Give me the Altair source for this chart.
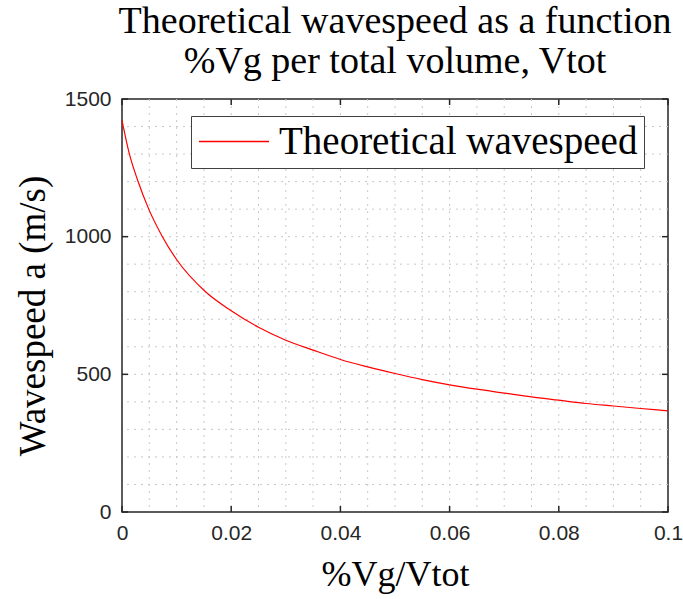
import altair as alt
import pandas as pd

# ---- data ----
gas_fraction = [0, 0.0013, 0.0029, 0.0049, 0.0074, 0.01, 0.0153, 0.02,
                0.025, 0.03, 0.035, 0.04, 0.045, 0.05, 0.055, 0.06, 0.065, 0.07,
                0.075, 0.08, 0.085, 0.09, 0.095, 0.1]
wavespeed = [1422, 1304, 1203, 1100, 1000, 917, 800, 731,
             671, 624, 588, 554, 527, 503, 481, 462, 446, 432,
             418, 406, 394, 385, 376, 367]
series_name = "Theoretical wavespeed"

x_tick_values = [0, 0.02, 0.04, 0.06, 0.08, 0.1]
y_tick_values = [0, 500, 1000, 1500]
x_grid_values = [0.005, 0.01, 0.015, 0.02, 0.025, 0.03, 0.035, 0.04, 0.045, 0.05,
                 0.055, 0.06, 0.065, 0.07, 0.075, 0.08, 0.085, 0.09, 0.095]
y_grid_values = [100, 200, 300, 400, 500, 600, 700, 800, 900, 1000,
                 1100, 1200, 1300, 1400]

W, H = 546, 413
TICK = 6
AX = "#262626"
RED = "#ff0000"
SERIF = "Liberation Serif"
SANS = "Liberation Sans"

curve_df = pd.DataFrame({"x": gas_fraction, "y": wavespeed, "series": series_name})
xg_df = pd.DataFrame({"x": x_grid_values})
yg_df = pd.DataFrame({"y": y_grid_values})
xt_df = pd.DataFrame({"x": x_tick_values})
yt_df = pd.DataFrame({"y": y_tick_values})

xscale = alt.Scale(domain=[0, 0.1], nice=False, zero=False)
yscale = alt.Scale(domain=[0, 1500], nice=False, zero=False)

axis_common = dict(domain=False, ticks=False, grid=False, labelFont=SANS,
                   labelFontSize=21, labelColor=AX, labelFlush=False, titleFont=SERIF,
                   titleFontWeight="normal", titleColor="black")
xaxis = alt.Axis(values=x_tick_values, format="~g", title="%Vg/Vtot",
                 titleFontSize=36, titlePadding=14, labelPadding=10, **axis_common)
yaxis = alt.Axis(values=y_tick_values, format="d", title="Wavespeed a (m/s)",
                 titleFontSize=37, titlePadding=12, labelPadding=11,
                 titleY=H / 2 + 10, **axis_common)

X = alt.X("x:Q", scale=xscale, axis=xaxis)
Y = alt.Y("y:Q", scale=yscale, axis=yaxis)

grid_style = dict(color="#c8c8c8", strokeWidth=1, strokeDash=[2, 5])

xgrid = alt.Chart(xg_df).mark_rule(**grid_style).encode(x=X)
ygrid = alt.Chart(yg_df).mark_rule(**grid_style).encode(y=Y)

xticks_bottom = alt.Chart(xt_df).mark_rule(color=AX, strokeWidth=1.5).encode(
    x=X, y=alt.value(H), y2=alt.value(H - TICK)
)
xticks_top = alt.Chart(xt_df).mark_rule(color=AX, strokeWidth=1.5).encode(
    x=X, y=alt.value(0), y2=alt.value(TICK)
)
yticks_left = alt.Chart(yt_df).mark_rule(color=AX, strokeWidth=1.5).encode(
    y=Y, x=alt.value(0), x2=alt.value(TICK)
)
yticks_right = alt.Chart(yt_df).mark_rule(color=AX, strokeWidth=1.5).encode(
    y=Y, x=alt.value(W - TICK), x2=alt.value(W)
)

# legend line sample: a thin rectangle path spanning [-1, 3] x [-0.04, 0.04] symbol units
legend_line = "M-1,-0.04H3V0.04H-1Z"

line = alt.Chart(curve_df).mark_line(strokeWidth=1.2, interpolate="monotone").encode(
    x=X,
    y=Y,
    color=alt.Color("series:N", scale=alt.Scale(domain=[series_name], range=[RED]),
                    legend=alt.Legend(title=None, orient="none", legendX=69, legendY=17,
                                      symbolType=legend_line, symbolSize=1225,
                                      symbolStrokeWidth=0, symbolStrokeColor=RED,
                                      symbolFillColor=RED,
                                      labelFont=SERIF,
                                      labelFontSize=39, labelColor="black",
                                      labelLimit=0, labelOffset=43,
                                      strokeColor="#404040",
                                      fillColor="white", padding=6)),
)

chart = alt.layer(xgrid, ygrid, line, xticks_bottom, xticks_top, yticks_left, yticks_right).properties(
    width=W, height=H,
    background="white",
    autosize=alt.AutoSizeParams(type="none"),
    padding={"left": 122, "top": 99, "right": 15, "bottom": 87},
    title=alt.TitleParams(text=["Theoretical wavespeed as a function",
                                "%Vg per total volume, Vtot"],
                          font=SERIF, fontSize=38, fontWeight="normal", color="black",
                          anchor="middle", lineHeight=40, offset=7),
).configure_view(stroke=AX, strokeWidth=1.5)

chart.save("out.html", embed_options={"renderer": "svg", "actions": False})
